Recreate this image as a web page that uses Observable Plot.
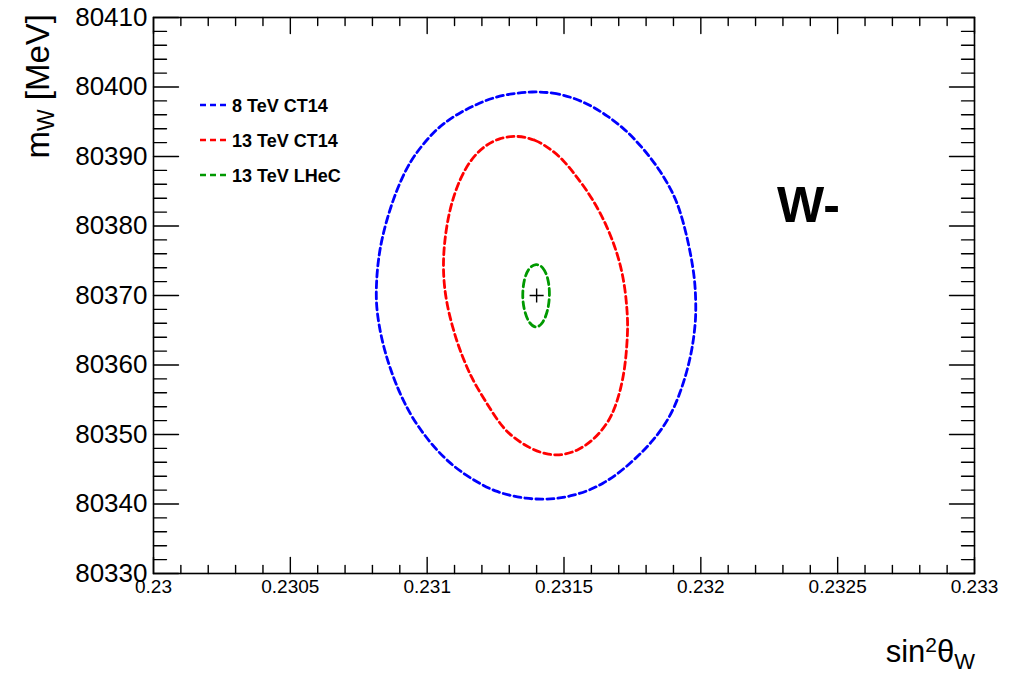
<!DOCTYPE html>
<html>
<head>
<meta charset="utf-8">
<script src="https://cdn.jsdelivr.net/npm/d3@7"></script>
<script src="https://cdn.jsdelivr.net/npm/@observablehq/plot@0.6"></script>
<style>
  html, body { margin: 0; padding: 0; background: #fff; }
</style>
</head>
<body>
<div id="chart"></div>
<script>
// ---- data ----
const series = ["8 TeV CT14", "13 TeV CT14", "13 TeV LHeC"];
const seriesColors = ["#0000ff", "#ff0000", "#009900"];

// contour points [sin2thetaW, mW]
const blue = [
  [0.2313832,80399.35],[0.2314599,80399.21],[0.2315328,80398.49],[0.2315985,80397.34],
  [0.2316569,80395.90],[0.2317153,80394.17],[0.2317664,80392.16],[0.2318102,80390.14],
  [0.2318503,80387.99],[0.2318832,80385.83],[0.2319124,80383.53],[0.2319343,80380.79],
  [0.2319525,80377.91],[0.2319671,80375.04],[0.2319781,80372.16],[0.2319817,80369.28],
  [0.2319817,80366.69],[0.2319744,80363.96],[0.2319635,80361.37],[0.2319452,80358.49],
  [0.2319233,80355.90],[0.2318978,80353.45],[0.2318649,80351.15],[0.2318248,80349.14],
  [0.2317847,80347.41],[0.2317409,80345.83],[0.2316934,80344.24],[0.2316423,80342.95],
  [0.2315912,80341.94],[0.2315328,80341.22],[0.2314781,80340.79],[0.2314197,80340.65],
  [0.2313613,80340.79],[0.2313029,80341.22],[0.2312518,80341.80],[0.2312044,80342.66],
  [0.2311423,80344.10],[0.2310839,80345.83],[0.2310328,80347.84],[0.2309854,80350.14],
  [0.2309452,80352.45],[0.2309124,80354.89],[0.2308869,80357.19],[0.2308650,80359.50],
  [0.2308467,80361.80],[0.2308321,80364.10],[0.2308212,80366.40],[0.2308139,80368.85],
  [0.2308139,80371.15],[0.2308175,80373.60],[0.2308248,80376.04],[0.2308358,80378.35],
  [0.2308540,80381.08],[0.2308759,80383.81],[0.2309051,80386.69],[0.2309380,80389.28],
  [0.2309781,80391.44],[0.2310219,80393.45],[0.2310693,80395.04],[0.2311204,80396.33],
  [0.2311788,80397.48],[0.2312409,80398.49],[0.2313102,80399.06]
];
const red = [
  [0.2313321,80393.02],[0.2313941,80392.45],[0.2314489,80391.15],[0.2314963,80389.57],
  [0.2315401,80387.41],[0.2315839,80385.11],[0.2316241,80382.52],[0.2316569,80379.93],
  [0.2316861,80377.05],[0.2317080,80374.17],[0.2317226,80371.15],[0.2317299,80368.27],
  [0.2317336,80365.68],[0.2317299,80362.81],[0.2317226,80359.64],[0.2317080,80356.62],
  [0.2316861,80353.74],[0.2316569,80351.44],[0.2316058,80349.14],[0.2315511,80347.70],
  [0.2314927,80346.98],[0.2314343,80347.12],[0.2313759,80347.99],[0.2313139,80349.57],
  [0.2312737,80351.15],[0.2312409,80353.02],[0.2312117,80354.89],[0.2311825,80356.76],
  [0.2311606,80358.35],[0.2311423,80359.93],[0.2311131,80362.81],[0.2310912,80365.68],
  [0.2310730,80368.56],[0.2310620,80371.44],[0.2310584,80374.32],[0.2310620,80377.19],
  [0.2310730,80380.50],[0.2310912,80383.67],[0.2311204,80386.83],[0.2311569,80389.42],
  [0.2312044,80391.44],[0.2312664,80392.73]
];
const green = [
  [0.231398,80374.60],[0.231423,80374.17],[0.231442,80372.59],[0.231449,80370.29],
  [0.231442,80367.84],[0.231423,80365.97],[0.231398,80365.25],[0.231372,80365.97],
  [0.231354,80367.84],[0.231347,80370.00],[0.231354,80372.45],[0.231372,80374.03]
];

const centerPoint = [[0.2314, 80370]];

const xMajor = [0.2300,0.2305,0.2310,0.2315,0.2320,0.2325,0.2330];
const xMinor = [0.2301,0.2302,0.2303,0.2304,0.2306,0.2307,0.2308,0.2309,0.2311,0.2312,0.2313,0.2314,0.2316,0.2317,0.2318,0.2319,0.2321,0.2322,0.2323,0.2324,0.2326,0.2327,0.2328,0.2329];
const yMajor = [80330,80340,80350,80360,80370,80380,80390,80400,80410];
const yMinor = [80332,80334,80336,80338,80342,80344,80346,80348,80352,80354,80356,80358,80362,80364,80366,80368,80372,80374,80376,80378,80382,80384,80386,80388,80392,80394,80396,80398,80402,80404,80406,80408];

const plotLabel = "W-";

// ---- build tables ----
const curves = [blue, red, green];

const FONT = "'Liberation Sans', Arial, Helvetica, sans-serif";
const tickShape = {draw(ctx, l) { ctx.moveTo(0, 0); ctx.lineTo(0, -l); }};
const ticks = (data, ch, anchor, rotate, length) =>
  Plot.vector(data, {[ch]: d => d, frameAnchor: anchor, rotate, length, anchor: "start",
    shape: tickShape, stroke: "black", strokeWidth: 1.4});

const chart = Plot.plot({
  width: 1020, height: 678,
  marginLeft: 153, marginRight: 46, marginTop: 17, marginBottom: 105,
  x: {domain: [0.23, 0.233]},
  y: {domain: [80330, 80410]},
  style: {fontFamily: FONT, color: "black", background: "white", overflow: "visible"},
  marks: [
    ...curves.map((rows, i) => Plot.line(rows, {x: d => d[0], y: d => d[1], curve: "basis-closed",
      stroke: seriesColors[i], strokeWidth: 2.8, strokeDasharray: "7,4"})),
    Plot.dot(centerPoint, {x: d => d[0], y: d => d[1], symbol: "plus", r: 4.6, stroke: "black", strokeWidth: 1.4}),
    ticks(xMajor, "x", "bottom", 0, 16),
    ticks(xMinor, "x", "bottom", 0, 8),
    ticks(xMajor, "x", "top", 180, 16),
    ticks(xMinor, "x", "top", 180, 8),
    ticks(yMajor, "y", "left", 90, 25),
    ticks(yMinor, "y", "left", 90, 13),
    ticks(yMajor, "y", "right", -90, 25),
    ticks(yMinor, "y", "right", -90, 13),
    Plot.frame({stroke: "black", strokeWidth: 1.6}),
    Plot.axisX({ticks: xMajor, tickSize: 0, tickPadding: 6, fontSize: 19, label: null,
      tickFormat: d => String(+d.toFixed(4))}),
    Plot.axisY({ticks: yMajor, tickSize: 0, tickPadding: 6, fontSize: 26, label: null,
      tickFormat: d => String(d)})
  ]
});

document.getElementById("chart").appendChild(chart);

// ---- text overlays (titles, label, legend) ----
const svg = d3.select(chart);
const g = svg.append("g").attr("font-family", FONT).attr("fill", "black")
  .attr("text-anchor", "start");

// y title
const yt = g.append("text").attr("transform", "translate(49,14) rotate(-90)")
  .attr("text-anchor", "end").attr("font-size", 33);
yt.append("tspan").text("m");
yt.append("tspan").attr("font-size", 23).attr("dy", "0.22em").text("W");
yt.append("tspan").attr("dy", "-0.15em").text(" [MeV]");

// x title
const xt = g.append("text").attr("x", 975).attr("y", 662)
  .attr("text-anchor", "end").attr("font-size", 31);
xt.append("tspan").text("sin");
xt.append("tspan").attr("font-size", 21).attr("dy", "-0.5em").text("2");
xt.append("tspan").attr("dy", "0.35em").text("θ");
xt.append("tspan").attr("font-size", 22).attr("dy", "0.3em").text("W");

// W- label
g.append("text").attr("x", 777).attr("y", 222).attr("font-size", 50)
  .attr("font-weight", "bold").text(plotLabel);

// legend
const legY = [105, 140, 175];
series.forEach((name, i) => {
  g.append("line").attr("x1", 200).attr("x2", 228).attr("y1", legY[i]).attr("y2", legY[i])
    .attr("stroke", seriesColors[i]).attr("stroke-width", 2.6).attr("stroke-dasharray", "6,4");
  g.append("text").attr("x", 232).attr("y", legY[i] + 7).attr("font-size", 18)
    .attr("font-weight", "bold").text(name);
});
</script>
</body>
</html>
